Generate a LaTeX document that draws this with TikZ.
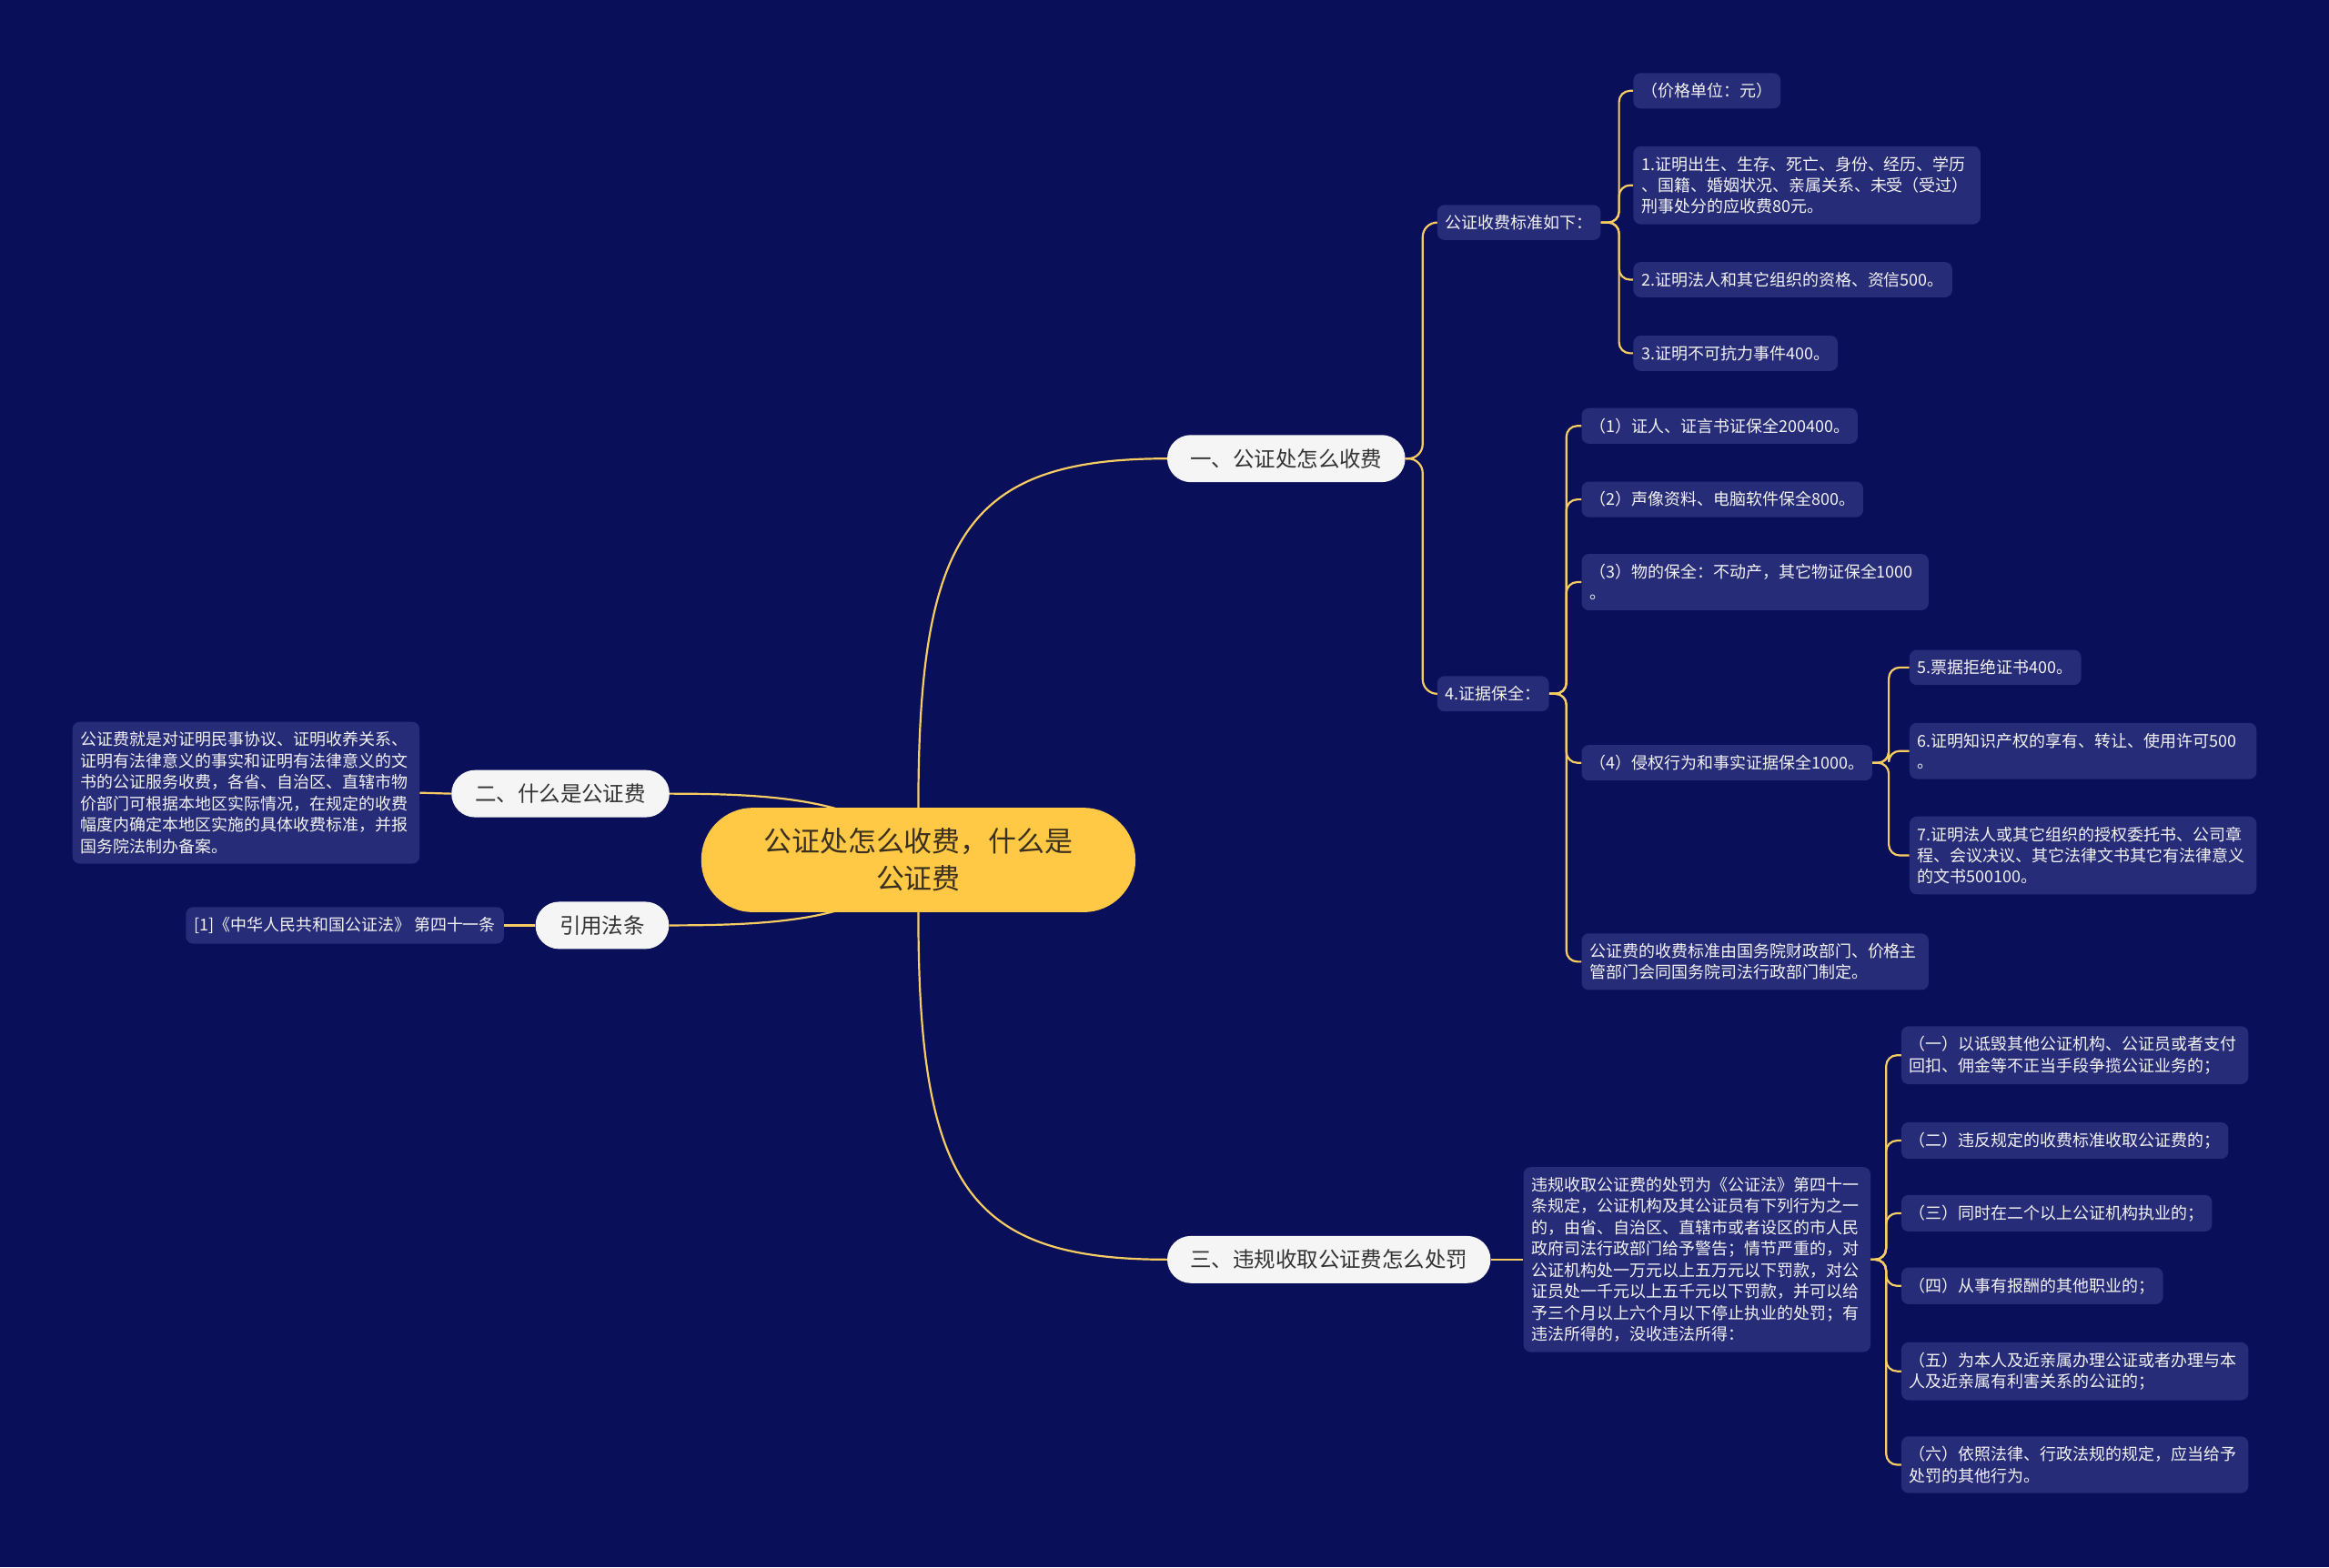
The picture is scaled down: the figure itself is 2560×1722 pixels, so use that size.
\documentclass[tikz,border=0pt]{standalone}
\usepackage{fontspec}
\setmainfont{Noto Sans CJK SC}
\newfontfamily\cjk{Noto Sans CJK SC}
\pgfdeclarelayer{bglayer}
\pgfdeclarelayer{linklayer}
\pgfsetlayers{bglayer,linklayer,main}
\definecolor{bgc}{HTML}{0A0F5A}
\definecolor{leaffill}{HTML}{272C78}
\definecolor{linkc}{HTML}{F7CD62}
\definecolor{rootfill}{HTML}{FFC845}
\definecolor{roottext}{HTML}{3A3020}
\definecolor{branchfill}{HTML}{F5F5F5}
\definecolor{branchtext}{HTML}{333333}
\definecolor{leaftext}{HTML}{F2F2F2}
\tikzset{
  leaf/.style={fill=leaffill, rounded corners=8pt, inner xsep=9pt, inner ysep=11pt,
    text=leaftext, align=left, font=\cjk\fontsize{18}{23.5}\selectfont},
  wleaf/.style={leaf, text width=364pt},
  branch/.style={fill=branchfill, rounded corners=26pt, minimum height=52pt,
    text=branchtext, font=\cjk\fontsize{23.5}{28}\selectfont, inner xsep=0pt},
  rootnode/.style={fill=rootfill, rounded corners=57pt, minimum width=478pt, minimum height=115pt,
    text=roottext, align=center, font=\cjk\fontsize{31}{41}\selectfont},
  link/.style={draw=linkc, line width=2.2pt},
  brk/.style={link, rounded corners=12pt},
}
\begin{document}
\begin{tikzpicture}[x=1pt,y=-1pt]
\begin{pgfonlayer}{bglayer}
\fill[bgc] (-2,-2) rectangle (2562,1724);
\end{pgfonlayer}
\useasboundingbox (0,0) rectangle (2560,1722);

% root and branches
\node[rootnode] (root) at (1009,945) {公证处怎么收费，什么是\\公证费};
\node[branch, minimum width=262pt] (b1) at (1414,503) {一、公证处怎么收费};
\node[branch, minimum width=240pt] (b2) at (615,872) {二、什么是公证费};
\node[branch, minimum width=147pt] (b4) at (661,1017) {引用法条};
\node[branch, minimum width=356pt] (b3) at (1461,1385) {三、违规收取公证费怎么处罚};

% left leaves
\node[wleaf, anchor=east] (l1) at (460,871) {公证费就是对证明民事协议、证明收养关系、\\证明有法律意义的事实和证明有法律意义的文\\书的公证服务收费，各省、自治区、直辖市物\\价部门可根据本地区实际情况，在规定的收费\\幅度内确定本地区实施的具体收费标准，并报\\国务院法制办备案。};
\node[leaf, anchor=east] (cite) at (553,1017) {[1]《中华人民共和国公证法》 第四十一条};

% branch 1
\node[leaf, anchor=west] (c1) at (1580,243) {公证收费标准如下：};
\node[leaf, anchor=west] (c2) at (1580,762) {4.证据保全：};

\node[leaf, anchor=west] (p0) at (1796,98) {（价格单位：元）};
\node[wleaf, anchor=west] (p1) at (1796,202) {1.证明出生、生存、死亡、身份、经历、学历\\、国籍、婚姻状况、亲属关系、未受（受过）\\刑事处分的应收费80元。};
\node[leaf, anchor=west] (p2) at (1796,306) {2.证明法人和其它组织的资格、资信500。};
\node[leaf, anchor=west] (p3) at (1796,387) {3.证明不可抗力事件400。};

\node[leaf, anchor=west] (s1) at (1739,467) {（1）证人、证言书证保全200400。};
\node[leaf, anchor=west] (s2) at (1739,548) {（2）声像资料、电脑软件保全800。};
\node[wleaf, anchor=west] (s3) at (1739,639) {（3）物的保全：不动产，其它物证保全1000\\。};
\node[leaf, anchor=west] (s4) at (1739,838) {（4）侵权行为和事实证据保全1000。};
\node[wleaf, anchor=west] (s5) at (1739,1057) {公证费的收费标准由国务院财政部门、价格主\\管部门会同国务院司法行政部门制定。};

\node[leaf, anchor=west] (t5) at (2100,733) {5.票据拒绝证书400。};
\node[wleaf, anchor=west] (t6) at (2100,825) {6.证明知识产权的享有、转让、使用许可500\\。};
\node[wleaf, anchor=west] (t7) at (2100,940) {7.证明法人或其它组织的授权委托书、公司章\\程、会议决议、其它法律文书其它有法律意义\\的文书500100。};

% branch 3
\node[wleaf, anchor=west] (v) at (1675,1385) {违规收取公证费的处罚为《公证法》第四十一\\条规定，公证机构及其公证员有下列行为之一\\的，由省、自治区、直辖市或者设区的市人民\\政府司法行政部门给予警告；情节严重的，对\\公证机构处一万元以上五万元以下罚款，对公\\证员处一千元以上五千元以下罚款，并可以给\\予三个月以上六个月以下停止执业的处罚；有\\违法所得的，没收违法所得：};
\node[wleaf, anchor=west] (r1) at (2091,1160) {（一）以诋毁其他公证机构、公证员或者支付\\回扣、佣金等不正当手段争揽公证业务的；};
\node[leaf, anchor=west] (r2) at (2091,1254) {（二）违反规定的收费标准收取公证费的；};
\node[leaf, anchor=west] (r3) at (2091,1334) {（三）同时在二个以上公证机构执业的；};
\node[leaf, anchor=west] (r4) at (2091,1414) {（四）从事有报酬的其他职业的；};
\node[wleaf, anchor=west] (r5) at (2091,1508) {（五）为本人及近亲属办理公证或者办理与本\\人及近亲属有利害关系的公证的；};
\node[wleaf, anchor=west] (r6) at (2091,1611) {（六）依照法律、行政法规的规定，应当给予\\处罚的其他行为。};

\begin{pgfonlayer}{linklayer}
% root links
\draw[link] (root.north) .. controls +(0,-300) and +(-220,0) .. (b1.west);
\draw[link] (root.south) .. controls +(0,300) and +(-220,0) .. (b3.west);
\draw[link] (b2.east) .. controls (860,872) and (960,880) .. (root.center);
\draw[link] (b4.east) .. controls (860,1017) and (960,1010) .. (root.center);
% left
\draw[link] (b2.west) -- (l1.east);
\draw[link] (b4.west) -- (cite.east);
% branch 1
\draw[brk, rounded corners=16pt] (b1.east) -- ++(19,0) |- (c1.west);
\draw[brk, rounded corners=16pt] (b1.east) -- ++(19,0) |- (c2.west);
\foreach \n in {p0,p1,p2,p3}{\draw[brk] (c1.east) -- ++(20,0) |- (\n.west);}
\foreach \n in {s1,s2,s3,s4,s5}{\draw[brk] (c2.east) -- ++(19,0) |- (\n.west);}
\foreach \n in {t5,t6,t7}{\draw[brk] (s4.east) -- ++(18,0) |- (\n.west);}
% branch 3
\draw[link] (b3.east) -- (v.west);
\foreach \n in {r1,r2,r3,r4,r5,r6}{\draw[brk] (v.east) -- ++(17,0) |- (\n.west);}
\end{pgfonlayer}
\end{tikzpicture}
\end{document}
